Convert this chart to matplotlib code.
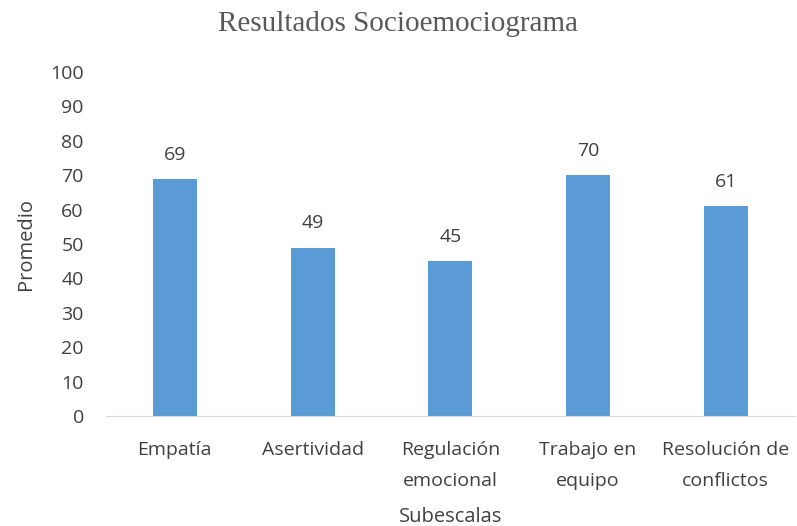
import matplotlib.pyplot as plt
import numpy as np

# datos
subescalas = ['Empatía', 'Asertividad', 'Regulación\nemocional', 'Trabajo en\nequipo', 'Resolución de\nconflictos']
promedio = [69, 49, 45, 70, 61]
yticks = [0, 10, 20, 30, 40, 50, 60, 70, 80, 90, 100]

plt.rcParams['font.family'] = ['Open Sans', 'DejaVu Sans']
gris = '#404040'

fig = plt.figure(figsize=(7.97, 5.26), dpi=100)
ax = fig.add_axes([0.133, 0.209, 0.864, 0.654])

x = np.arange(len(subescalas))
ax.bar(x, promedio, width=0.32, color='#5B9BD5', zorder=2)

# etiquetas de valor
for xi, v in zip(x, promedio):
    ax.text(xi, v + 7, str(v), ha='center', va='center', fontsize=14, color=gris)

ax.set_xlim(-0.5, len(subescalas) - 0.5)
ax.set_ylim(0, 100)
ax.set_yticks(yticks)
ax.set_xticks(x)
ax.set_xticklabels(subescalas, fontsize=14, color=gris, linespacing=1.95)
ax.tick_params(axis='y', labelsize=14, labelcolor=gris, length=0, pad=16)
ax.tick_params(axis='x', length=0, pad=18)

for s in ['top', 'right', 'left']:
    ax.spines[s].set_visible(False)
ax.spines['bottom'].set_color('#D9D9D9')

ax.set_ylabel('Promedio', fontsize=14.5, color=gris, labelpad=10)
ax.set_xlabel('Subescalas', fontsize=14.5, color=gris, labelpad=12)

fig.text(0.5, 0.955, 'Resultados Socioemociograma', ha='center', va='center',
         fontsize=21, color='#595959', family='Liberation Serif')

plt.savefig('out.png', dpi=100)
